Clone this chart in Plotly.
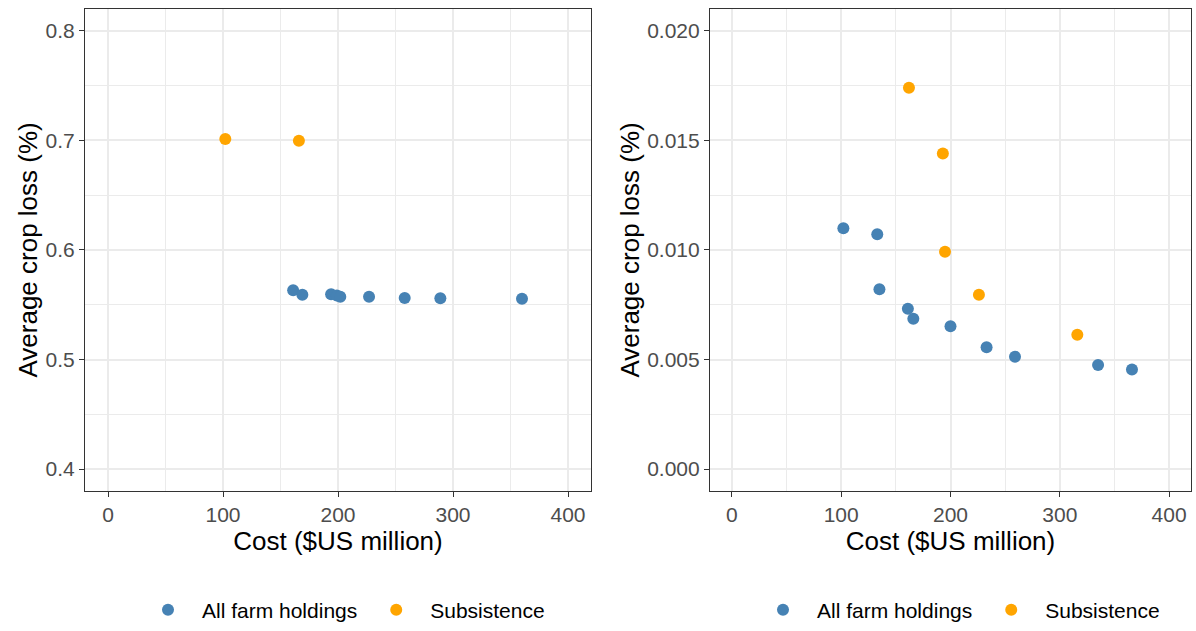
import plotly.graph_objects as go

# ---- data ----
left_all_x = [161, 169, 194, 199, 202, 227, 258, 289, 360]
left_all_y = [0.5632, 0.5592, 0.5596, 0.5585, 0.5573, 0.5572, 0.5561, 0.5560, 0.5554]
left_sub_x = [102, 166]
left_sub_y = [0.7012, 0.6997]

right_all_x = [102, 133, 135, 161, 166, 200, 233, 259, 335, 366]
right_all_y = [0.01099, 0.01072, 0.00821, 0.00732, 0.00686, 0.00652, 0.00556, 0.00513, 0.00475, 0.00454]
right_sub_x = [162, 193, 195, 226, 316]
right_sub_y = [0.01740, 0.01440, 0.00992, 0.00796, 0.00613]

series_names = ["All farm holdings", "Subsistence"]
colors = ["#4682B4", "#FFA500"]

x_ticks = [0, 100, 200, 300, 400]
left_y_ticks = [0.4, 0.5, 0.6, 0.7, 0.8]
left_y_labels = ["0.4", "0.5", "0.6", "0.7", "0.8"]
right_y_ticks = [0.0, 0.005, 0.010, 0.015, 0.020]
right_y_labels = ["0.000", "0.005", "0.010", "0.015", "0.020"]

x_title = "Cost ($US million)"
y_title = "Average crop loss (%)"

FONT = "Liberation Sans, Arial, sans-serif"
W, H = 1196, 631

fig = go.Figure()

def add(x, y, name, color, xa, ya, legend):
    fig.add_trace(go.Scatter(
        x=x, y=y, mode="markers", name=name,
        marker=dict(color=color, size=12, line=dict(width=0)),
        xaxis=xa, yaxis=ya, legend=legend, showlegend=True,
    ))

add(left_all_x, left_all_y, series_names[0], colors[0], "x", "y", "legend")
add(left_sub_x, left_sub_y, series_names[1], colors[1], "x", "y", "legend")
add(right_all_x, right_all_y, series_names[0], colors[0], "x2", "y2", "legend2")
add(right_sub_x, right_sub_y, series_names[1], colors[1], "x2", "y2", "legend2")

grid = "#EBEBEB"
axis_common = dict(
    showline=True, linecolor="#333333", linewidth=1.2, mirror=True,
    ticks="outside", ticklen=5, tickcolor="#333333", tickwidth=1.1,
    showgrid=True, gridcolor=grid, gridwidth=1.7,
    zeroline=False,
    tickfont=dict(family=FONT, size=21, color="#4D4D4D"),
    title_font=dict(family=FONT, size=26, color="#000000"),
)
minor_grid = dict(showgrid=True, gridcolor=grid, gridwidth=0.9, ticks="")

ydom = [1 - 503 / H, 1 - 9 / H]
legend_common = dict(orientation="h", xanchor="left", y=1 - 625 / H, yanchor="middle",
                     itemwidth=58, font=dict(family=FONT, size=21, color="#000000"),
                     bgcolor="rgba(0,0,0,0)", borderwidth=0)

fig.update_layout(
    width=W, height=H,
    margin=dict(l=0, r=0, t=0, b=0),
    paper_bgcolor="white", plot_bgcolor="white",
    font=dict(family=FONT),
    xaxis=dict(domain=[85 / W, 591 / W], range=[-20, 420], tickvals=x_ticks,
               title=dict(text=x_title, standoff=4),
               minor=dict(dtick=50, tick0=0, **minor_grid),
               anchor="y", **axis_common),
    yaxis=dict(domain=ydom, range=[0.38, 0.82], tickvals=left_y_ticks, ticktext=left_y_labels,
               title=dict(text=y_title, standoff=0),
               minor=dict(dtick=0.05, tick0=0, **minor_grid),
               anchor="x", **axis_common),
    xaxis2=dict(domain=[710 / W, 1191 / W], range=[-20, 420], tickvals=x_ticks,
                title=dict(text=x_title, standoff=4),
                minor=dict(dtick=50, tick0=0, **minor_grid),
                anchor="y2", **axis_common),
    yaxis2=dict(domain=ydom, range=[-0.001, 0.021], tickvals=right_y_ticks, ticktext=right_y_labels,
                title=dict(text=y_title, standoff=0),
                minor=dict(dtick=0.0025, tick0=0, **minor_grid),
                anchor="x2", **axis_common),
    legend=dict(x=(168 - 34) / W, **legend_common),
    legend2=dict(x=(783 - 34) / W, **legend_common),
)

fig.write_html("out.html")
